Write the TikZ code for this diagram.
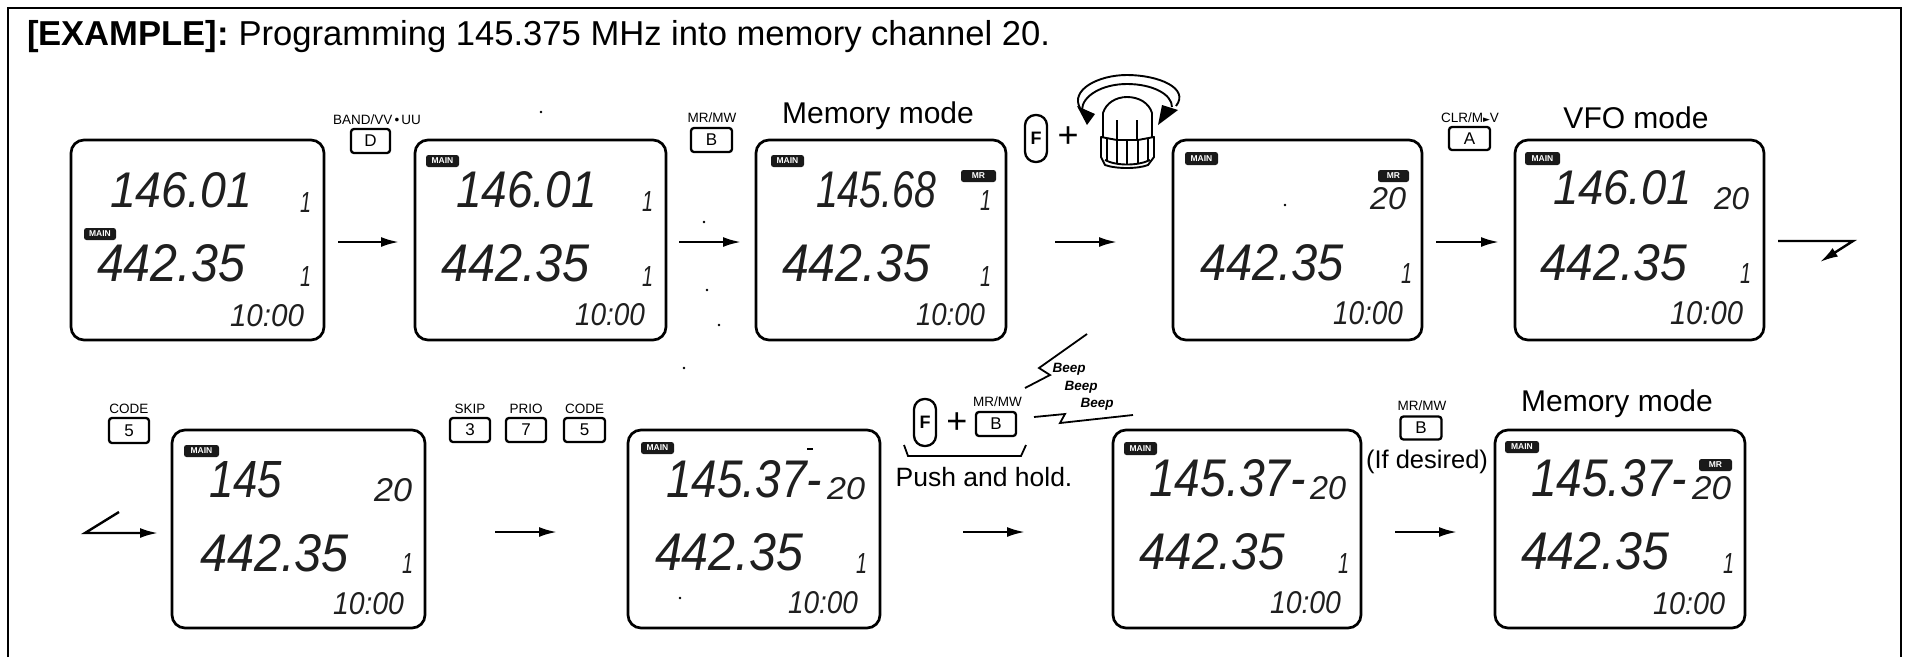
\documentclass[tikz,border=0pt]{standalone}
\usepackage{fontspec}
\usepackage{graphicx}
\setmainfont{Liberation Sans}
\newfontfamily\symfont{DejaVu Sans}
\usetikzlibrary{arrows.meta}
\tikzset{
  lcdpanelbox/.style={draw=black,line width=2.7,rounded corners=13,inner sep=0,outer sep=0},
  lcdtext/.style={anchor=south west,inner sep=0,outer sep=0,text=black!88},
  badge/.style={fill=black!90,rounded corners=2.5,inner sep=0,text=white,font=\fontsize{8.5}{9}\selectfont\bfseries},
  keycap/.style={draw=black,line width=2.3,rounded corners=3,inner sep=0,font=\fontsize{17}{18}\selectfont},
  fkey/.style={draw=black,line width=2.3,rounded corners=10.5,inner sep=0,font=\fontsize{18}{18}\selectfont\bfseries},
  keylabel/.style={inner sep=0,font=\fontsize{13.5}{14}\selectfont},
  heading/.style={inner sep=0,font=\fontsize{30}{32}\selectfont},
  side/.style={inner sep=0,font=\fontsize{26.5}{28}\selectfont},
  beep/.style={inner sep=0,font=\fontsize{13.5}{14}\selectfont\bfseries\itshape},
  flow/.style={line width=2.4,-{Latex[length=18,width=10]}},
  thin line/.style={line width=1.8,line join=miter},
}
\newcommand{\lcdpanel}[5]{%
  \pgfmathsetmacro\lcdW{#4-#2}\pgfmathsetmacro\lcdH{#5-#3}%
  \pgfmathsetmacro\lcdX{(#4+#2)/2}\pgfmathsetmacro\lcdY{(#5+#3)/2}%
  \node[lcdpanelbox,minimum width=\lcdW,minimum height=\lcdH] (#1) at (\lcdX,\lcdY) {};}
\newcommand{\lcdval}[6]{%
  \pgfmathsetmacro\lcdW{#4-#2}\pgfmathsetmacro\lcdH{#5-#3}%
  \node[lcdtext] (#1) at (#2,#5) {\resizebox{\lcdW pt}{\lcdH pt}{\fontsize{40}{40}\selectfont\itshape #6}};}
\newcommand{\lcdbadge}[6]{%
  \pgfmathsetmacro\lcdW{#4-#2}\pgfmathsetmacro\lcdH{#5-#3}%
  \pgfmathsetmacro\lcdX{(#4+#2)/2}\pgfmathsetmacro\lcdY{(#5+#3)/2}%
  \node[badge,minimum width=\lcdW,minimum height=\lcdH] (#1) at (\lcdX,\lcdY) {#6};}
\begin{document}
\begin{tikzpicture}[x=1pt,y=-1pt]
\useasboundingbox (0,0) rectangle (1906,657);
\fill[white] (0,0) rectangle (1906,657);
% frame
\draw[line width=1.8] (8,657) -- (8,8) -- (1901,8) -- (1901,657);
% title
\node[anchor=base west,inner sep=0,font=\fontsize{34.6}{36}\selectfont] (title) at (27,45)
  {\textbf{[EXAMPLE]:} Programming 145.375 MHz into memory channel 20.};

% panels
\lcdpanel{p1}{71}{140}{324}{340}
\lcdpanel{p2}{415}{140}{666}{340}
\lcdpanel{p3}{756}{140}{1006}{340}
\lcdpanel{p4}{1173}{140}{1422}{340}
\lcdpanel{p5}{1515}{140}{1764}{340}
\lcdpanel{p6}{172}{430}{425}{628}
\lcdpanel{p7}{628}{430}{880}{628}
\lcdpanel{p8}{1113}{430}{1361}{628}
\lcdpanel{p9}{1495}{430}{1745}{628}

% panel 1
\lcdbadge{p1m}{84}{228}{116}{240}{MAIN}
\lcdval{p1a}{110}{173}{252}{208}{146.01}
\lcdval{p1b}{97}{245}{245}{282}{442.35}
\lcdval{p1c}{300}{192}{311}{212}{1}
\lcdval{p1d}{300}{266}{311}{286}{1}
\lcdval{p1e}{230}{305}{304}{327}{10:00}
% panel 2
\lcdbadge{p2m}{426}{155}{459}{167}{MAIN}
\lcdval{p2a}{456}{172}{597}{208}{146.01}
\lcdval{p2b}{441}{245}{590}{282}{442.35}
\lcdval{p2c}{642}{191}{653}{211}{1}
\lcdval{p2d}{642}{266}{653}{286}{1}
\lcdval{p2e}{575}{304}{645}{326}{10:00}
% panel 3
\lcdbadge{p3m}{771}{155}{804}{167}{MAIN}
\lcdbadge{p3r}{961}{170}{996}{182}{MR}
\lcdval{p3a}{816}{172}{936}{208}{145.68}
\lcdval{p3b}{782}{245}{930}{282}{442.35}
\lcdval{p3c}{980}{190}{991}{210}{1}
\lcdval{p3d}{980}{266}{991}{286}{1}
\lcdval{p3e}{916}{304}{985}{326}{10:00}
% panel 4
\lcdbadge{p4m}{1185}{152}{1218}{165}{MAIN}
\lcdbadge{p4r}{1378}{170}{1409}{182}{MR}
\lcdval{p4a}{1370}{188}{1406}{210}{20}
\lcdval{p4b}{1200}{245}{1344}{281}{442.35}
\lcdval{p4c}{1401}{263}{1412}{283}{1}
\lcdval{p4e}{1333}{302}{1403}{325}{10:00}
% panel 5
\lcdbadge{p5m}{1525}{152}{1560}{165}{MAIN}
\lcdval{p5a}{1553}{171}{1692}{205}{146.01}
\lcdval{p5f}{1714}{188}{1749}{210}{20}
\lcdval{p5b}{1540}{245}{1687}{281}{442.35}
\lcdval{p5c}{1740}{263}{1751}{283}{1}
\lcdval{p5e}{1670}{302}{1743}{325}{10:00}
% panel 6
\lcdbadge{p6m}{184}{445}{219}{457}{MAIN}
\lcdval{p6a}{209}{462}{282}{498}{145}
\lcdval{p6f}{374}{479}{412}{502}{20}
\lcdval{p6b}{200}{535}{349}{572}{442.35}
\lcdval{p6c}{402}{553}{413}{573}{1}
\lcdval{p6e}{333}{593}{404}{615}{10:00}
% panel 7
\lcdbadge{p7m}{641}{442}{674}{454}{MAIN}
\lcdval{p7a}{666}{461}{822}{498}{145.37-}
\lcdval{p7f}{827}{478}{865}{500}{20}
\lcdval{p7b}{655}{534}{803}{571}{442.35}
\lcdval{p7c}{856}{553}{867}{573}{1}
\lcdval{p7e}{788}{592}{858}{614}{10:00}
% panel 8
\lcdbadge{p8m}{1124}{442}{1157}{455}{MAIN}
\lcdval{p8a}{1149}{460}{1306}{497}{145.37-}
\lcdval{p8f}{1310}{477}{1346}{500}{20}
\lcdval{p8b}{1139}{534}{1285}{570}{442.35}
\lcdval{p8c}{1338}{553}{1349}{573}{1}
\lcdval{p8e}{1270}{592}{1341}{614}{10:00}
% panel 9
\lcdbadge{p9m}{1505}{441}{1539}{453}{MAIN}
\lcdbadge{p9r}{1699}{459}{1732}{471}{MR}
\lcdval{p9a}{1531}{460}{1687}{497}{145.37-}
\lcdval{p9f}{1692}{477}{1731}{500}{20}
\lcdval{p9b}{1521}{533}{1669}{570}{442.35}
\lcdval{p9c}{1723}{553}{1734}{573}{1}
\lcdval{p9e}{1653}{593}{1725}{615}{10:00}

% key caps row 1
\node[keycap,minimum width=39,minimum height=24] (kD) at (370.5,141) {D};
\node[keylabel] (kDl) at (377,120) {BAND/VV\,•\,UU};
\node[keycap,minimum width=41,minimum height=24] (kB) at (711.5,140) {B};
\node[keylabel] (kBl) at (712,118) {MR/MW};
\node[heading] (mm1) at (878,116) {Memory mode};
\node[fkey,minimum width=22,minimum height=47] (kF) at (1036,138.5) {F};
\node[inner sep=0,font=\fontsize{36}{36}\selectfont] (plus1) at (1068,137) {+};
\node[keycap,minimum width=41,minimum height=23] (kA) at (1469.5,138.5) {A};
\node[keylabel] (kAl) at (1470,118) {CLR/M{\symfont\fontsize{9}{9}\selectfont ►}V};
\node[heading] (vfo) at (1636,118) {VFO mode};

% knob
\begin{scope}[line width=1.9,line join=round]
  \draw (1103,137) -- (1103,113) .. controls (1106,103) and (1116,97) .. (1127,97)
        .. controls (1139,97) and (1149,103) .. (1152,113) -- (1152,137);
  \draw (1117,120) -- (1117,139) (1137,120) -- (1137,139);
  \draw (1101,137) -- (1117,140) -- (1138,140) -- (1154,137) -- (1154,157) -- (1148,165)
        .. controls (1138,169) and (1116,169) .. (1105,165) -- (1101,157) -- cycle;
  \draw (1107,139) -- (1107,161) (1117,140) -- (1117,163) (1127,140) -- (1127,165)
        (1138,140) -- (1138,163) (1148,139) -- (1148,161);
  \draw (1105,160) .. controls (1116,166) and (1138,166) .. (1150,160);
  \draw (1080,108) .. controls (1070,90) and (1098,75) .. (1127,75)
        .. controls (1158,75) and (1190,88) .. (1176,106);
  \draw (1082,110) .. controls (1082,96) and (1102,84) .. (1127,84)
        .. controls (1152,84) and (1172,94) .. (1172,107);
  \fill (1087,125) -- (1077,106) -- (1095,114) -- cycle;
  \fill (1158,125) -- (1162,105) -- (1178,110) -- cycle;
\end{scope}

% row 2 keys
\node[keycap,minimum width=40,minimum height=25] (k5a) at (129,430.5) {5};
\node[keylabel] (k5al) at (129,409) {CODE};
\node[keycap,minimum width=40,minimum height=24] (k3) at (470,430) {3};
\node[keylabel] (k3l) at (470,409) {SKIP};
\node[keycap,minimum width=40,minimum height=24] (k7) at (526,430) {7};
\node[keylabel] (k7l) at (526,409) {PRIO};
\node[keycap,minimum width=41,minimum height=24] (k5b) at (584.5,430) {5};
\node[keylabel] (k5bl) at (584.5,409) {CODE};
\node[fkey,minimum width=22,minimum height=47] (kF2) at (925,422.5) {F};
\node[inner sep=0,font=\fontsize{36}{36}\selectfont] (plus2) at (957,423) {+};
\node[keycap,minimum width=40,minimum height=24] (kB2) at (996,424) {B};
\node[keylabel] (kB2l) at (997.5,402) {MR/MW};
\node[side] (push) at (984,477) {Push and hold.};
\node[keycap,minimum width=41,minimum height=23] (kB3) at (1421,428) {B};
\node[keylabel] (kB3l) at (1422,406) {MR/MW};
\node[side,font=\fontsize{25.5}{28}\selectfont] (ifd) at (1427,462) {(If desired)};
\node[heading] (mm2) at (1617,404) {Memory mode};
\node[beep] (b1) at (1069,369) {Beep};
\node[beep] (b2) at (1081,387) {Beep};
\node[beep] (b3) at (1097,404) {Beep};
% beep bolts and brace
\draw[thin line] (1087,334) -- (1039,368) -- (1050,375) -- (1025,388);
\draw[thin line] (1034,417) -- (1065,414) -- (1060,423) -- (1133,415);
\draw[thin line] (904,445) -- (908,456) -- (1021,456) -- (1026,445);

% connectors
\coordinate (bendA) at (1853,241);
\coordinate (bendAe) at (1820,262);
\coordinate (bendB) at (119,512);
\coordinate (bendC) at (85,533);
\draw[flow,shorten <=14,shorten >=16] ([yshift=-2]p1.east) -- ([yshift=-2]p2.west);
\draw[flow,shorten <=13,shorten >=15] ([yshift=-2]p2.east) -- ([yshift=-2]p3.west);
\draw[flow,shorten <=49,shorten >=56] ([yshift=-2]p3.east) -- ([yshift=-2]p4.west);
\draw[flow,shorten <=14,shorten >=16] ([yshift=-2]p4.east) -- ([yshift=-2]p5.west);
\draw[flow,shorten <=14,line join=miter] ([yshift=-1]p5.east) -- (bendA) -- (bendAe);
\draw[flow,shorten >=14,line join=miter] (bendB) -- (bendC) -- (p6.west |- bendC);
\draw[flow,shorten <=70,shorten >=71] ([yshift=-3]p6.east) -- ([yshift=-3]p7.west);
\draw[flow,shorten <=83,shorten >=88] ([yshift=-3]p7.east) -- ([yshift=-3]p8.west);
\draw[flow,shorten <=34,shorten >=38] ([yshift=-3]p8.east) -- ([yshift=-3]p9.west);

% specks of the scan
\foreach \sx/\sy in {541/112,704/222,707/290,719/325,684/368,680/598,1285/205}
  \fill (\sx,\sy) circle (1.4);
\draw[line width=1.8] (807,449) -- (813,449);
\end{tikzpicture}
\end{document}
